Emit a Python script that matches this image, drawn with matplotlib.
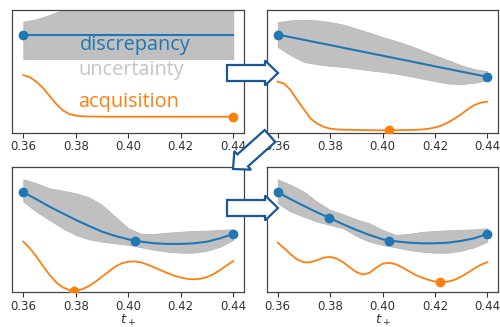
import numpy as np
import matplotlib
matplotlib.use("Agg")
import matplotlib.pyplot as plt
from matplotlib.patches import FancyArrow

# ---------------- data (normalised vertical units, 0..1) ----------------
x = [0.36, 0.365, 0.37, 0.375, 0.38, 0.385, 0.39, 0.395, 0.40, 0.405,
     0.41, 0.415, 0.42, 0.425, 0.43, 0.435, 0.44]
x_acq = [0.36, 0.3625, 0.365, 0.3675, 0.37, 0.3725, 0.375, 0.3775, 0.38,
         0.3825, 0.385, 0.3875, 0.39, 0.3925, 0.395, 0.3975, 0.40, 0.4025,
         0.405, 0.4075, 0.41, 0.4125, 0.415, 0.4175, 0.42, 0.4225, 0.425,
         0.4275, 0.43, 0.4325, 0.435, 0.4375, 0.44]

# panel 1 (top-left): one observation
p1_mean = [0.80] * 17
p1_upper = [0.905, 0.925, 0.96, 1.0, 1.03, 1.1, 1.1, 1.1, 1.1, 1.1,
            1.1, 1.1, 1.1, 1.1, 1.1, 1.1, 1.1]
p1_lower = [0.60] * 17
p1_acq = [0.47, 0.452, 0.415, 0.365, 0.30, 0.235, 0.183, 0.152, 0.139,
          0.134, 0.132, 0.131, 0.13, 0.13, 0.13, 0.13, 0.13, 0.13, 0.13,
          0.13, 0.13, 0.13, 0.13, 0.13, 0.13, 0.13, 0.13, 0.13, 0.13,
          0.13, 0.13, 0.13, 0.13]
p1_obs_x = [0.36]
p1_obs_y = [0.80]
p1_next = (0.44, 0.13)

# panel 2 (top-right)
p2_mean = [0.80, 0.778, 0.757, 0.735, 0.714, 0.692, 0.671, 0.649, 0.628,
           0.606, 0.585, 0.563, 0.541, 0.520, 0.498, 0.477, 0.455]
p2_upper = [0.902, 0.916, 0.921, 0.916, 0.902, 0.881, 0.848, 0.816, 0.780,
            0.748, 0.713, 0.672, 0.631, 0.591, 0.550, 0.518, 0.501]
p2_lower = [0.699, 0.631, 0.577, 0.558, 0.545, 0.537, 0.523, 0.509, 0.496,
            0.482, 0.463, 0.442, 0.420, 0.401, 0.396, 0.407, 0.428]
p2_acq = [0.416, 0.40, 0.345, 0.265, 0.19, 0.117, 0.075, 0.048, 0.033,
          0.027, 0.024, 0.023, 0.022, 0.021, 0.021, 0.02, 0.02, 0.02, 0.02,
          0.021, 0.022, 0.023, 0.026, 0.032, 0.042, 0.058, 0.083, 0.115,
          0.15, 0.19, 0.225, 0.245, 0.253]
p2_obs_x = [0.36, 0.44]
p2_obs_y = [0.80, 0.455]
p2_next = (0.4026, 0.018)

# panel 3 (bottom-left)
p3_mean = [0.800, 0.744, 0.685, 0.632, 0.579, 0.531, 0.485, 0.451, 0.424,
           0.405, 0.392, 0.387, 0.387, 0.392, 0.405, 0.432, 0.467]
p3_upper = [0.904, 0.872, 0.832, 0.813, 0.792, 0.760, 0.699, 0.605, 0.512,
            0.467, 0.467, 0.477, 0.485, 0.491, 0.493, 0.499, 0.504]
p3_lower = [0.725, 0.645, 0.579, 0.512, 0.459, 0.424, 0.405, 0.392, 0.379,
            0.360, 0.339, 0.325, 0.317, 0.317, 0.333, 0.365, 0.419]
p3_acq = [0.405, 0.352, 0.285, 0.21, 0.14, 0.08, 0.04, 0.018, 0.013, 0.025,
          0.05, 0.085, 0.125, 0.165, 0.205, 0.232, 0.245, 0.247, 0.238,
          0.22, 0.198, 0.175, 0.153, 0.133, 0.118, 0.108, 0.104, 0.108,
          0.122, 0.145, 0.178, 0.215, 0.25]
p3_obs_x = [0.36, 0.4025, 0.44]
p3_obs_y = [0.80, 0.413, 0.467]
p3_next = (0.3795, 0.01)

# panel 4 (bottom-right)
p4_mean = [0.800, 0.744, 0.691, 0.640, 0.592, 0.544, 0.499, 0.459, 0.424,
           0.408, 0.397, 0.392, 0.392, 0.397, 0.411, 0.432, 0.467]
p4_upper = [0.904, 0.859, 0.805, 0.725, 0.659, 0.624, 0.584, 0.552, 0.499,
            0.459, 0.467, 0.483, 0.491, 0.496, 0.499, 0.504, 0.512]
p4_lower = [0.712, 0.645, 0.605, 0.565, 0.539, 0.512, 0.451, 0.405, 0.379,
            0.360, 0.339, 0.325, 0.317, 0.317, 0.333, 0.360, 0.405]
p4_acq = [0.397, 0.352, 0.303, 0.262, 0.24, 0.24, 0.257, 0.277, 0.283,
          0.27, 0.24, 0.2, 0.162, 0.142, 0.155, 0.195, 0.228, 0.236, 0.225,
          0.2, 0.17, 0.14, 0.118, 0.1, 0.086, 0.08, 0.085, 0.1, 0.125,
          0.155, 0.19, 0.22, 0.24]
p4_obs_x = [0.36, 0.3797, 0.4026, 0.44]
p4_obs_y = [0.80, 0.592, 0.413, 0.467]
p4_next = (0.4221, 0.08)

xticks = [0.36, 0.38, 0.40, 0.42, 0.44]
xticklabels = ["0.36", "0.38", "0.40", "0.42", "0.44"]
labels = ["discrepancy", "uncertainty", "acquisition"]

BLUE = "#1f77b4"
ORANGE = "#ff7f0e"
ARROW = "#1a5796"

panels = [
    (p1_mean, p1_upper, p1_lower, p1_acq, p1_obs_x, p1_obs_y, p1_next),
    (p2_mean, p2_upper, p2_lower, p2_acq, p2_obs_x, p2_obs_y, p2_next),
    (p3_mean, p3_upper, p3_lower, p3_acq, p3_obs_x, p3_obs_y, p3_next),
    (p4_mean, p4_upper, p4_lower, p4_acq, p4_obs_x, p4_obs_y, p4_next),
]

W, H = 500, 327
fig = plt.figure(figsize=(W / 100, H / 100), dpi=100)

# axes boxes in pixels: left, right, top, bottom
boxes = [(12.3, 244.3, 10, 132.7), (266.7, 498.3, 10, 132.7),
         (12.3, 244.3, 167.3, 292.3), (266.7, 498.3, 167.3, 292.3)]

axes = []
for i, (l, r, t, b) in enumerate(boxes):
    ax = fig.add_axes([l / W, 1 - b / H, (r - l) / W, (b - t) / H])
    mean, up, lo, acq, ox, oy, nxt = panels[i]
    ax.fill_between(x, lo, up, color="#c0c0c0", lw=0.6, edgecolor="#b8b8b8", zorder=1)
    if i == 0:
        ax.plot([x[0], x[-1]], [mean[0], mean[-1]], color=BLUE, lw=1.5, zorder=2)
    else:
        ax.plot(x, mean, color=BLUE, lw=1.5, zorder=2)
    ax.plot(ox, oy, "o", color=BLUE, ms=6, zorder=3)
    ax.plot(x_acq, acq, color=ORANGE, lw=1.3, zorder=2)
    ax.plot([nxt[0]], [nxt[1]], "o", color=ORANGE, ms=6, zorder=3)
    ax.set_xlim(0.3558, 0.4442)
    ax.set_ylim(0, 1)
    ax.set_yticks([])
    ax.set_xticks(xticks)
    ax.set_xticklabels(xticklabels)
    ax.tick_params(axis="x", labelsize=8.5, colors="#333333", length=3.5,
                   width=0.8, pad=2)
    for s in ax.spines.values():
        s.set_color("#444444")
        s.set_linewidth(0.9)
    if i >= 2:
        ax.set_xlabel("$t_+$", fontsize=9.5, color="#333333", labelpad=0)
    axes.append(ax)

# legend-like labels in the first panel
ax0 = axes[0]
FONT = "Open Sans"
ax0.text(0.4026, 0.715, labels[0], color=BLUE, fontsize=14.3, family=FONT,
         ha="center", va="center", zorder=4)
ax0.text(0.401, 0.51, labels[1], color="#c4c4c4", fontsize=14.3, family=FONT,
         ha="center", va="center", zorder=4)
ax0.text(0.400, 0.253, labels[2], color=ORANGE, fontsize=14.3, family=FONT,
         ha="center", va="center", zorder=4)

# hollow block arrows (in inches from figure bottom-left)
arrow_specs = [
    (2.27, 2.54, 0.51, 0.0),
    (2.70, 1.91, -0.37, -0.33),
    (2.27, 1.19, 0.51, 0.0),
]
for (ax_, ay_, dx_, dy_) in arrow_specs:
    arr = FancyArrow(ax_, ay_, dx_, dy_, width=0.16, head_width=0.25,
                     head_length=0.13, length_includes_head=True,
                     transform=fig.dpi_scale_trans, facecolor="white",
                     edgecolor=ARROW, linewidth=1.6, zorder=10)
    fig.add_artist(arr)

fig.savefig("out.png", dpi=100)
